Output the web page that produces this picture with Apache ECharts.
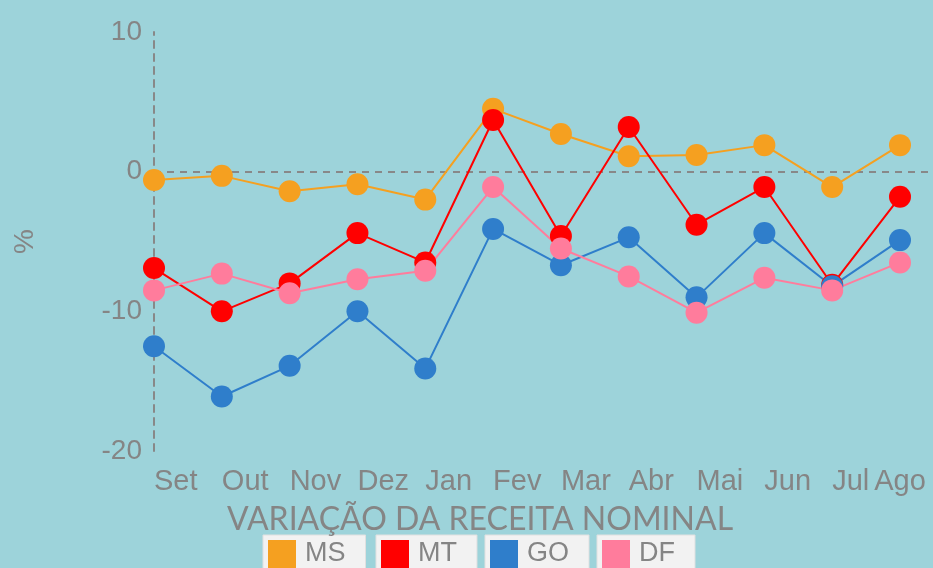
<!DOCTYPE html>
<html lang="pt">
<head>
    <meta charset="UTF-8">
    <title>Variação da receita nominal</title>
    <script src="https://cdn.jsdelivr.net/npm/echarts@6/dist/echarts.min.js"></script>
</head>
<body style="margin:0;width:933px;height:568px;background:#9dd3da">
    <div id="container" style="width:933px;height:568px"></div>
</body>
<script>
    var meses = ['Set', 'Out', 'Nov', 'Dez', 'Jan', 'Fev', 'Mar', 'Abr', 'Mai', 'Jun', 'Jul', 'Ago'];
    var ms = [-0.6, -0.3, -1.4, -0.9, -2.0, 4.5, 2.7, 1.1, 1.2, 1.9, -1.1, 1.9];
    var mt = [-6.9, -10.0, -8.0, -4.4, -6.5, 3.7, -4.6, 3.2, -3.8, -1.1, -8.1, -1.8];
    var go = [-12.5, -16.1, -13.9, -10.0, -14.1, -4.1, -6.7, -4.7, -9.0, -4.4, -8.2, -4.9];
    var df = [-8.5, -7.3, -8.7, -7.7, -7.1, -1.1, -5.5, -7.5, -10.1, -7.6, -8.5, -6.5];
    var estados = ['MS', 'MT', 'GO', 'DF'];
    var cores = ['#f5a020', '#ff0000', '#2f7ecb', '#ff7c9c'];

    var dom = document.getElementById("container");
    var myChart = echarts.init(dom);

    var cinza = '#858585';
    var arial = '"Liberation Sans", Arial, sans-serif';

    function serie(nome, dados, cor) {
        return {
            name: nome,
            type: 'line',
            data: dados,
            symbol: 'circle',
            symbolSize: 22,
            itemStyle: {color: cor},
            lineStyle: {color: cor, width: 2},
            z: 3
        };
    }

    var series = [
        serie('MS', ms, cores[0]),
        serie('MT', mt, cores[1]),
        serie('GO', go, cores[2]),
        serie('DF', df, cores[3])
    ];
    // linha tracejada no zero
    series[0].markLine = {
        silent: true,
        symbol: 'none',
        label: {show: false},
        lineStyle: {color: '#888', type: [7, 6], width: 2},
        data: [[{xAxis: 0, yAxis: 0}, {x: 930, yAxis: 0}]],
        z: 1
    };

    var legendLeft = [263, 376, 485, 597];
    var legends = estados.map(function (e, i) {
        return {
            data: [e],
            left: legendLeft[i],
            top: 535,
            backgroundColor: '#f2f2f2',
            borderColor: '#e0e0e0',
            borderWidth: 1,
            padding: [5, 20, 6, 5],
            icon: 'rect',
            itemWidth: 28,
            itemHeight: 28,
            itemGap: 0,
            textStyle: {color: cinza, fontFamily: arial, fontSize: 27, padding: [0, 0, 0, 4]}
        };
    });

    var option = {
        backgroundColor: '#9dd3da',
        title: {
            text: 'VARIAÇÃO DA RECEITA NOMINAL',
            left: 222,
            top: 499,
            textStyle: {color: cinza, fontFamily: 'Lato', fontSize: 32, fontWeight: 'normal'}
        },
        legend: legends,
        grid: {left: 154, right: 33, top: 32, bottom: 117},
        xAxis: {
            type: 'category',
            data: meses,
            boundaryGap: false,
            axisLine: {show: false},
            axisTick: {show: false},
            axisLabel: {
                color: cinza,
                fontFamily: arial,
                fontSize: 29,
                align: 'left',
                margin: 16,
                alignMaxLabel: 'center'
            }
        },
        yAxis: {
            type: 'value',
            min: -20,
            max: 10,
            interval: 10,
            name: '%',
            nameLocation: 'middle',
            nameGap: 115,
            nameRotate: 90,
            nameTextStyle: {color: cinza, fontFamily: arial, fontSize: 28},
            axisLine: {show: true, lineStyle: {color: '#888', type: [7, 6], width: 2}},
            axisTick: {show: false},
            splitLine: {show: false},
            axisLabel: {color: cinza, fontFamily: arial, fontSize: 28, margin: 12}
        },
        series: series
    };

    myChart.setOption(option, true);
</script>
</html>
